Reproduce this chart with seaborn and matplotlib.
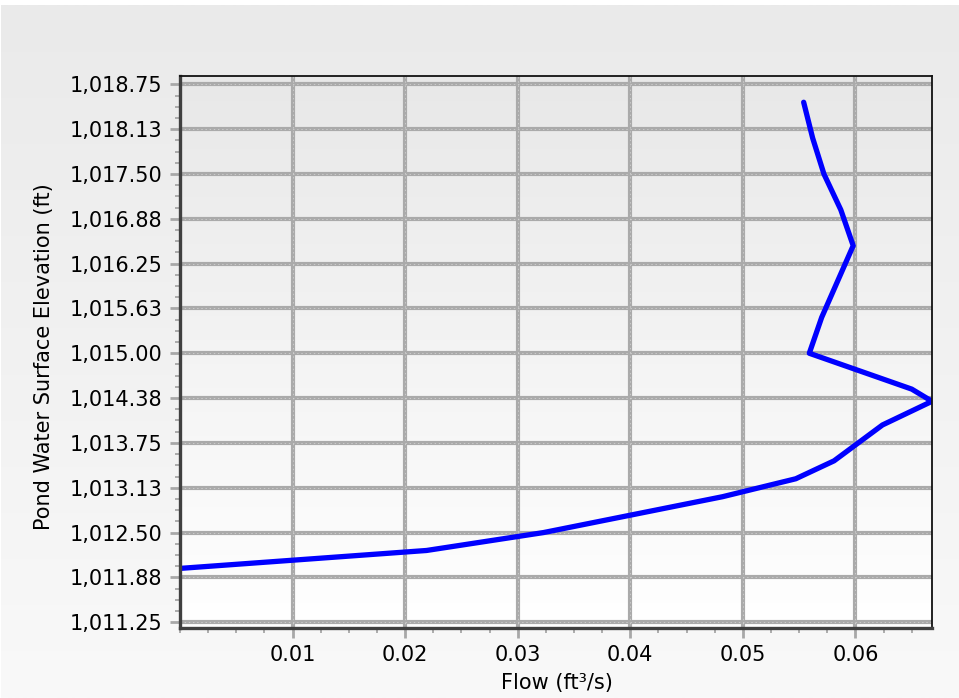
import numpy as np
import matplotlib
matplotlib.use("Agg")
import matplotlib.pyplot as plt
from matplotlib.ticker import AutoMinorLocator, FixedLocator
from matplotlib.colors import LinearSegmentedColormap
import seaborn as sns
import pandas as pd

# ---- data ----
flow = [0.0, 0.0219, 0.0323, 0.0482, 0.0547, 0.0581, 0.0624, 0.0668, 0.0650,
        0.0559, 0.0570, 0.0584, 0.0598, 0.0587, 0.0572, 0.0562, 0.0554]
elevation = [1012.0, 1012.25, 1012.5, 1013.0, 1013.25, 1013.5, 1014.0, 1014.33, 1014.5,
             1015.0, 1015.5, 1016.0, 1016.5, 1017.0, 1017.5, 1018.0, 1018.5]

x_ticks = [0.01, 0.02, 0.03, 0.04, 0.05, 0.06]
x_tick_labels = ["0.01", "0.02", "0.03", "0.04", "0.05", "0.06"]
y_ticks = [1011.25, 1011.875, 1012.5, 1013.125, 1013.75, 1014.375, 1015.0,
           1015.625, 1016.25, 1016.875, 1017.5, 1018.125, 1018.75]
y_tick_labels = ["1,011.25", "1,011.88", "1,012.50", "1,013.13", "1,013.75", "1,014.38",
                 "1,015.00", "1,015.63", "1,016.25", "1,016.88", "1,017.50", "1,018.13",
                 "1,018.75"]
x_label = "Flow (ft³/s)"
y_label = "Pond Water Surface Elevation (ft)"

df = pd.DataFrame({"flow": flow, "elevation": elevation})

sns.set_theme(style="white")
plt.rcParams["font.family"] = ["DejaVu Sans"]

W, H = 959, 698
fig = plt.figure(figsize=(W / 100, H / 100), dpi=100, facecolor="white")

# figure background gradient (white border on top/left)
bg = fig.add_axes([1 / W, 0, 1 - 1 / W, 1 - 5 / H], zorder=-3)
fig_cmap = LinearSegmentedColormap.from_list("figbg", ["#f9f9f9", "#eaeaea"])
bg.imshow(np.linspace(0, 1, 256).reshape(-1, 1), cmap=fig_cmap, aspect="auto",
          origin="lower", extent=[0, 1, 0, 1])
bg.set_axis_off()

L, R, T, B = 180, 932, 76, 627.5
pos = [L / W, 1 - B / H, (R - L) / W, (B - T) / H]

# plot-area gradient
pbg = fig.add_axes(pos, zorder=-2)
ax_cmap = LinearSegmentedColormap.from_list("axbg", ["#ffffff", "#e8e8e8"])
pbg.imshow(np.linspace(0, 1, 256).reshape(-1, 1), cmap=ax_cmap, aspect="auto",
           origin="lower", extent=[0, 1, 0, 1])
pbg.set_axis_off()

ax = fig.add_axes(pos, zorder=1)
ax.set_facecolor("none")
ax.set_axisbelow(True)

sns.lineplot(data=df, x="flow", y="elevation", sort=False, estimator=None,
             color="#0000ff", linewidth=3.8, ax=ax, zorder=5)

ax.set_xlim(0, 0.0668)
ax.set_ylim(1011.176, 1018.866)

ax.xaxis.set_major_locator(FixedLocator(x_ticks))
ax.set_xticklabels(x_tick_labels)
ax.yaxis.set_major_locator(FixedLocator(y_ticks))
ax.set_yticklabels(y_tick_labels)
ax.xaxis.set_minor_locator(AutoMinorLocator(4))
ax.yaxis.set_minor_locator(AutoMinorLocator(4))

# grid: thick grey with light dotted centre
ax.grid(True, which="major", color="#aaaaaa", linewidth=3.0, linestyle="-", zorder=1)
for t in y_ticks:
    ax.axhline(t, color="#d8d8d8", linewidth=0.5, linestyle=(0, (2, 4)), zorder=2)
for t in x_ticks:
    ax.axvline(t, color="#d8d8d8", linewidth=0.5, linestyle=(0, (2, 4)), zorder=2)

ax.tick_params(which="major", direction="out", length=7, width=2.0, color="#a8a8a8",
               labelsize=15, labelcolor="black", pad=5.5)
ax.tick_params(which="minor", direction="out", length=3.6, width=1.2, color="#a0a0a0")
ax.tick_params(axis="x", which="both", bottom=True, top=False)
ax.tick_params(axis="y", which="both", left=True, right=False)

for side in ["left", "bottom"]:
    ax.spines[side].set_color("#404040")
    ax.spines[side].set_linewidth(2.4)
for side in ["top", "right"]:
    ax.spines[side].set_color("#111111")
    ax.spines[side].set_linewidth(1.3)
for s in ax.spines.values():
    s.set_visible(True)
    s.set_zorder(6)

ax.set_xlabel("")
ax.set_ylabel("")
fig.text(557 / W, 1 - 683 / H, x_label, ha="center", va="center", fontsize=15, color="black")
fig.text(44 / W, 1 - 357 / H, y_label, ha="center", va="center", rotation=90,
         fontsize=15, color="black")

fig.savefig("out.png", dpi=100, facecolor="white")
